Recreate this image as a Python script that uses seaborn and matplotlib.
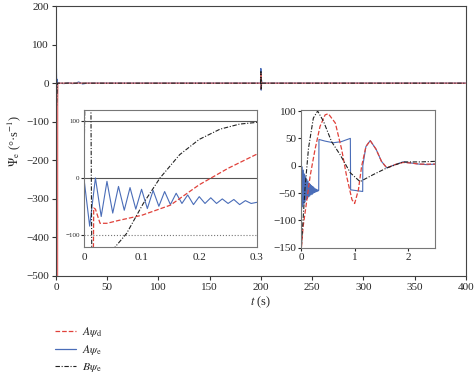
import matplotlib
matplotlib.use("Agg")
import matplotlib.pyplot as plt
import seaborn as sns
import pandas as pd
from matplotlib.lines import Line2D

sns.set_style("ticks")
plt.rcParams['font.family'] = ['Liberation Serif', 'DejaVu Serif']
plt.rcParams['mathtext.fontset'] = 'stix'

RED = '#e0413a'
BLUE = '#4a6db8'
BLACK = '#222222'

# ---------------- main plot data ----------------
main_blue_t = [0, 0.4, 0.8, 1.2, 1.6, 3, 8, 12, 16, 20, 22, 24, 26, 30, 60, 199.6, 199.9, 200.2, 200.5, 201, 210, 400]
main_blue_v = [0, 45, -30, 10, 0, 0, -1, 1, -1, 0, 3, 1, -2, 0, 0, 0, 38, -18, 8, 0, 0, 0]
main_red_t = [0, 1.6, 1.7, 1.9, 199.8, 200.0, 200.3, 200.6, 400]
main_red_v = [0, -500, -50, 0, 0, 25, -15, 0, 0]
main_black_t = [0, 0.6, 1.4, 199.8, 200.0, 200.3, 200.6, 400]
main_black_v = [0, -60, 0, 0, 30, -15, 0, 0]

# ---------------- inset 1 data (0 - 0.3 s) ----------------
in1_blue_t = [0, 0.01, 0.02, 0.03, 0.04, 0.05, 0.06, 0.07, 0.08, 0.09, 0.10, 0.11, 0.12,
              0.13, 0.14, 0.15, 0.16, 0.17, 0.18, 0.19, 0.20, 0.21, 0.22, 0.23, 0.24,
              0.25, 0.26, 0.27, 0.28, 0.29, 0.30]
in1_blue_v = [0, -85, 0, -68, -6, -62, -15, -57, -17, -55, -20, -54, -22, -50, -24, -47,
              -27, -45, -30, -47, -33, -45, -35, -45, -37, -45, -38, -47, -40, -45, -43]
in1_red_t = [0, 0.001, 0.016, 0.017, 0.020, 0.028, 0.04, 0.06, 0.10, 0.15, 0.20, 0.25, 0.30]
in1_red_v = [0, -200, -200, -53, -55, -80, -80, -75, -66, -48, -12, 17, 42]
in1_black_t = [0, 0.002, 0.012, 0.014, 0.054, 0.074, 0.103, 0.132, 0.166, 0.20, 0.236, 0.27, 0.30]
in1_black_v = [0, 160, 160, -200, -122, -98, -45, 0, 41, 68, 86, 95, 98]
in1_ref = [100, 0, -100]

# ---------------- inset 2 data (0 - 2.5 s) ----------------
in2_blue_t = [0.000, 0.011, 0.022, 0.033, 0.044, 0.055, 0.066, 0.077, 0.088, 0.099, 0.110,
              0.121, 0.132, 0.143, 0.154, 0.165, 0.176, 0.187, 0.198, 0.209, 0.220, 0.231,
              0.242, 0.253, 0.264, 0.275, 0.286, 0.297, 0.308, 0.319, 0.330, 0.335,
              0.45, 0.6, 0.75, 0.92, 0.925, 1.0, 1.15, 1.152, 1.21, 1.29, 1.4, 1.5, 1.6,
              1.75, 1.9, 2.05, 2.2, 2.35, 2.5]
in2_blue_v = [0, -80, -2, -75, -8, -70, -15, -66, -20, -62, -25, -60, -28, -57, -32, -55,
              -34, -53, -36, -52, -38, -50, -40, -49, -42, -48, -43, -47, -44, -46, -45, 48,
              45, 42, 44, 50, -44, -45, -47, 0, 35, 46, 30, 8, -4,
              2, 7, 5, 3, 2, 3]
in2_red_t = [0, 0.04, 0.11, 0.17, 0.26, 0.355, 0.45, 0.51, 0.64, 0.76, 0.85, 0.95, 1.0,
             1.07, 1.13, 1.21, 1.29, 1.4, 1.5, 1.6, 1.75, 1.9, 2.05, 2.2, 2.35, 2.5]
in2_red_v = [-160, -111, -62, -19, 29, 72, 93, 95, 78, 29, -19, -62, -69,
             -44, -1, 35, 46, 30, 8, -4, 2, 6, 5, 3, 3, 3]
in2_black_t = [0, 0.075, 0.14, 0.23, 0.31, 0.42, 0.57, 0.73, 0.92, 1.10, 1.35, 1.6, 1.91, 2.22, 2.5]
in2_black_v = [-160, -41, 32, 87, 100, 81, 44, 20, -13, -29, -16, -4, 7, 7, 8]

labels = [r"$A\psi_{\rm d}$", r"$A\psi_{\rm e}$", r"$B\psi_{\rm e}$"]

fig = plt.figure(figsize=(4.74, 3.79), dpi=100)
ax = fig.add_axes([0.118, 0.272, 0.865, 0.712])


def draw(a, t, v, color, ls, lw):
    df = pd.DataFrame({'t': t, 'v': v})
    sns.lineplot(data=df, x='t', y='v', ax=a, color=color, linestyle=ls, lw=lw,
                 sort=False, estimator=None, legend=False)


draw(ax, main_blue_t, main_blue_v, BLUE, '-', 0.9)
draw(ax, main_red_t, main_red_v, '#e87070', '-', 0.9)
draw(ax, main_black_t, main_black_v, BLACK, (0, (4, 1.5, 1, 1.5)), 0.8)
ax.set_xlim(0, 400)
ax.set_ylim(-500, 200)
ax.set_xticks(range(0, 401, 50))
ax.set_yticks(range(-500, 201, 100))
ax.tick_params(labelsize=8, length=3, width=0.8, color='#333', pad=2)
for s in ax.spines.values():
    s.set_color('#444')
    s.set_linewidth(0.8)
ax.set_xlabel(r"$t$ (s)", fontsize=9, labelpad=2)
ax.set_ylabel(r"$\Psi_{\rm e}$ (°·s$^{-1}$)", fontsize=9, labelpad=2)

# inset 1
a1 = fig.add_axes([0.177, 0.348, 0.365, 0.362])
a1.axhline(in1_ref[0], color='#555', lw=0.8)
a1.axhline(in1_ref[1], color='#555', lw=0.8)
a1.axhline(in1_ref[2], color='#777', lw=0.8, ls=':')
draw(a1, in1_blue_t, in1_blue_v, BLUE, '-', 0.8)
draw(a1, in1_red_t, in1_red_v, RED, '--', 0.9)
draw(a1, in1_black_t, in1_black_v, BLACK, (0, (4, 1.5, 1, 1.5)), 0.8)
a1.set_xlim(0, 0.3)
a1.set_ylim(-122, 120)
a1.set_xticks([0, 0.1, 0.2, 0.3])
a1.set_xticklabels(['0', '0.1', '0.2', '0.3'])
a1.set_yticks(in1_ref)
a1.tick_params(axis='x', labelsize=8, length=0, pad=4)
a1.tick_params(axis='y', labelsize=5, length=2, pad=1)
a1.set_xlabel('')
a1.set_ylabel('')
for s in a1.spines.values():
    s.set_color('#777')
    s.set_linewidth(0.8)

# inset 2
a2 = fig.add_axes([0.635, 0.346, 0.283, 0.364])
draw(a2, in2_blue_t, in2_blue_v, BLUE, '-', 0.8)
draw(a2, in2_red_t, in2_red_v, RED, '--', 0.9)
draw(a2, in2_black_t, in2_black_v, BLACK, (0, (4, 1.5, 1, 1.5)), 0.8)
a2.set_xlim(0, 2.5)
a2.set_ylim(-150, 102)
a2.set_xticks([0, 1, 2])
a2.set_yticks([-150, -100, -50, 0, 50, 100])
a2.tick_params(labelsize=8, length=2, pad=1.5)
a2.set_xlabel('')
a2.set_ylabel('')
for s in a2.spines.values():
    s.set_color('#777')
    s.set_linewidth(0.8)

handles = [Line2D([], [], color=RED, ls='--', lw=0.9),
           Line2D([], [], color=BLUE, ls='-', lw=0.9),
           Line2D([], [], color=BLACK, ls=(0, (4, 1.5, 1, 1.5)), lw=0.8)]
fig.legend(handles, labels, loc='upper left', bbox_to_anchor=(0.116, 1 - 325 / 379),
           frameon=False, fontsize=8.5, handlelength=1.75, labelspacing=0.35,
           handletextpad=0.55, borderaxespad=0, borderpad=0)

fig.savefig('out.png', dpi=100)
